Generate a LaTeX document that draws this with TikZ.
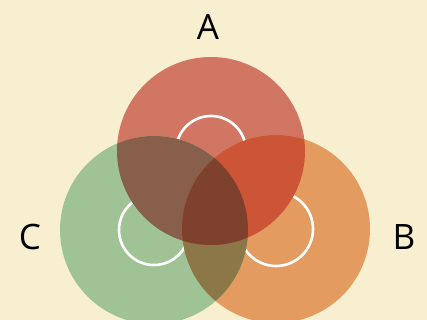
\documentclass[tikz,border=0pt]{standalone}
\usepackage{fontspec}
\setmainfont{Open Sans}
\usetikzlibrary{positioning}
\definecolor{BgCream}{RGB}{248,238,208}
\definecolor{SetA}{RGB}{210,118,100}
\definecolor{SetB}{RGB}{228,155,95}
\definecolor{SetC}{RGB}{160,195,150}
\definecolor{SetAB}{RGB}{205,85,55}
\definecolor{SetAC}{RGB}{135,95,75}
\definecolor{SetBC}{RGB}{140,120,70}
\definecolor{SetABC}{RGB}{125,65,45}
\tikzset{
  setlab/.style={font=\fontsize{35}{40}\selectfont,text=black,inner sep=0pt},
  ring/.style={draw=white,line width=2.6pt},
}
\def\rad{94pt}

\begin{document}
\begin{tikzpicture}[x=1pt,y=-1pt]
\useasboundingbox (0,0) rectangle (427,320);
\fill[BgCream] (0,0) rectangle (427,320);
\clip (0,0) rectangle (427,320);
\coordinate (cA) at (211,151);
\coordinate (cB) at (276,229);
\coordinate (cC) at (154,230);
% the three sets
\fill[SetA] (cA) circle (\rad);
\fill[SetB] (cB) circle (\rad);
\fill[SetC] (cC) circle (\rad);
\draw[ring] (cA) circle (35pt);
\draw[ring] (cB) circle (37pt);
\draw[ring] (cC) circle (35pt);
% overlaps
\begin{scope}
\clip (cB) circle (\rad);
\fill[SetBC] (cC) circle (\rad);
\end{scope}
\begin{scope}
\clip (cA) circle (\rad);
\fill[SetAC] (cC) circle (\rad);
\fill[SetAB] (cB) circle (\rad);
\clip (cB) circle (\rad);
\fill[SetABC] (cC) circle (\rad);
\end{scope}
\node[setlab] (labA) at (208,27) {A};
\node[setlab] (labB) at (404,237) {B};
\node[setlab] (labC) at (30,237) {C};
\end{tikzpicture}
\end{document}
